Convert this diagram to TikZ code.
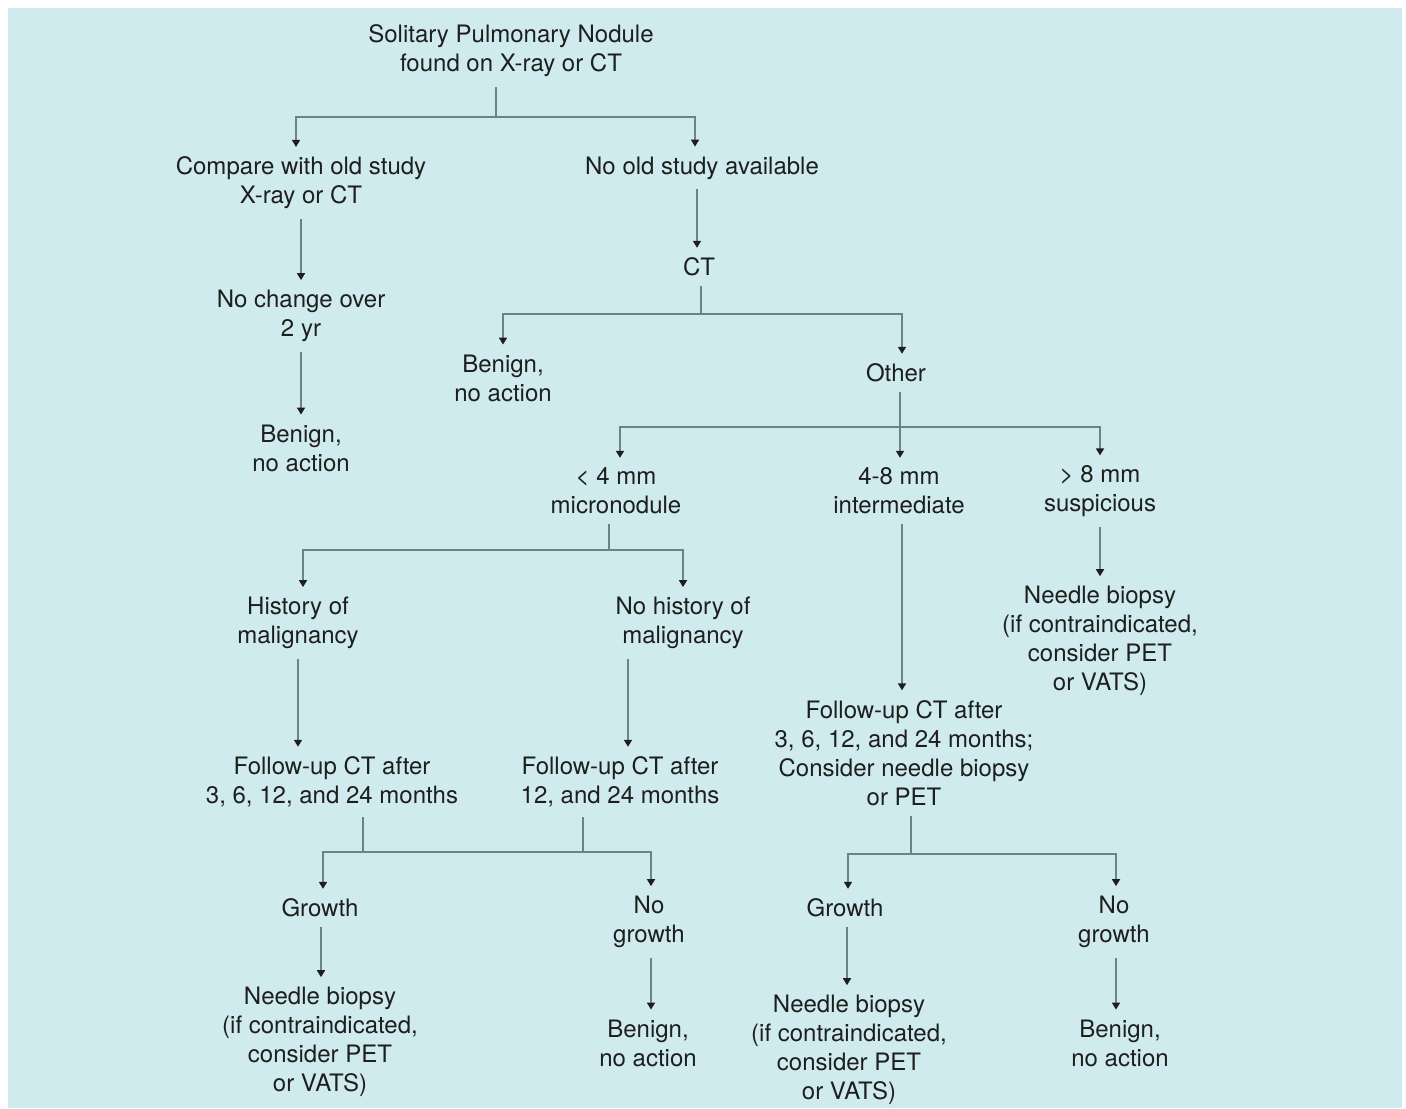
\documentclass[tikz,border=0pt]{standalone}
\usepackage{fontspec}
\setmainfont{TeX Gyre Heros}
\usepackage{xcolor}
\usetikzlibrary{arrows.meta, positioning}
\definecolor{panel}{HTML}{CFEBEE}
\definecolor{wire}{HTML}{6A8587}
\definecolor{ink}{HTML}{1E1E1E}

\tikzset{
  txt/.style={align=center, inner sep=0pt, outer sep=5pt, text=ink, yshift=-1.5pt,
    font=\fontsize{12}{14.5}\selectfont},
  link/.style={draw=wire, line width=0.8pt},
  arr/.style={link, -{Triangle[width=4pt,length=3.5pt,color=ink]}}
}

\begin{document}
\begin{tikzpicture}[x=0.5pt, y=-0.5pt]
\useasboundingbox (0,0) rectangle (1406,1108);
\fill[white] (0,0) rectangle (1406,1108);
\fill[panel] (8,8) rectangle (1402,1108);

\node[txt] (title) at (511,48) {Solitary Pulmonary Nodule\\found on X-ray or CT};
\node[txt] (cmp) at (301,180) {Compare with old study\\X-ray or CT};
\node[txt] (noold) at (702,165) {No old study available};
\node[txt] (chg) at (301,313) {No change over\\2 yr};
\node[txt] (ben1) at (301,445) {Benign,\\no action};
\node[txt] (ct) at (699,264) {CT};
\node[txt] (ben2) at (503,375) {Benign,\\no action};
\node[txt] (other) at (896,370) {Other};
\node[txt] (small) at (616,488) {< 4 mm\\micronodule};
\node[txt] (mid) at (899,488) {4-8 mm\\intermediate};
\node[txt] (big) at (1100,488) {> 8 mm\\suspicious};
\node[txt] (hist) at (298,620) {History of\\malignancy};
\node[txt] (nohist) at (683,620) {No history of\\malignancy};
\node[txt] (fu1) at (332,779) {Follow-up CT after\\3, 6, 12, and 24 months};
\node[txt] (fu2) at (620,779) {Follow-up CT after\\12, and 24 months};
\node[txt] (fu3) at (904,750) {Follow-up CT after\\3, 6, 12, and 24 months;\\Consider needle biopsy\\or PET};
\node[txt] (nb0) at (1100,638) {Needle biopsy\\(if contraindicated,\\consider PET\\or VATS)};
\node[txt] (gr1) at (320,905) {Growth};
\node[txt] (ng1) at (649,919) {No\\growth};
\node[txt] (nb1) at (320,1039) {Needle biopsy\\(if contraindicated,\\consider PET\\or VATS)};
\node[txt] (ben3) at (648,1040) {Benign,\\no action};
\node[txt] (gr2) at (845,905) {Growth};
\node[txt] (ng2) at (1114,919) {No\\growth};
\node[txt] (nb2) at (849,1047) {Needle biopsy\\(if contraindicated,\\consider PET\\or VATS)};
\node[txt] (ben4) at (1120,1040) {Benign,\\no action};

\coordinate (j0) at (496,117);
\coordinate (j1) at (701,314);
\coordinate (j2) at (900,427);
\coordinate (j3) at (609,550);
\coordinate (j4a) at (363,852);
\coordinate (j4b) at (583,852);
\coordinate (j5) at (911,854);
\coordinate (c2) at (628,0);

\draw[link] (title.south -| j0) -- (j0);
\draw[arr] (j0) -| ([xshift=-2.5pt]cmp.north);
\draw[arr] (j0) -| ([xshift=-3.5pt]noold.north);
\draw[arr] (cmp) -- (chg);
\draw[arr] (chg) -- (ben1);
\draw[arr] ([xshift=-2.5pt]noold.south) -- ([xshift=-2.5pt]noold.south |- ct.north);
\draw[link] (ct.south -| j1) -- (j1);
\draw[arr] (j1) -| (ben2.north);
\draw[arr] (j1) -| ([xshift=3pt]other.north);
\draw[arr] (other.south -| j2) -- (mid.north -| j2);
\draw[arr] (j2) -| ([xshift=2pt]small.north);
\draw[arr] (j2) -| (big.north);
\draw[link] (small.south -| j3) -- (j3);
\draw[arr] (j3) -| ([xshift=2.5pt]hist.north);
\draw[arr] (j3) -| (nohist.north);
\draw[arr] (hist.south) -- (fu1.north -| hist);
\draw[arr] (nohist.south -| c2) -- (fu2.north -| c2);
\draw[arr] ([xshift=1.5pt]mid.south) -- ([xshift=1.5pt]mid.south |- fu3.north);
\draw[arr] (big) -- (nb0);
\draw[link] (fu1.south -| j4a) -- (j4a);
\draw[link] (fu2.south -| j4b) -- (j4b);
\draw[link] (j4a) -- (j4b);
\draw[arr] (j4a) -| ([xshift=1.5pt]gr1.north);
\draw[arr] (j4b) -| ([xshift=1pt]ng1.north);
\draw[link] (fu3.south -| j5) -- (j5);
\draw[arr] (j5) -| ([xshift=1.5pt]gr2.north);
\draw[arr] (j5) -| ([xshift=1pt]ng2.north);
\draw[arr] ([xshift=0.5pt]gr1.south) -- ([xshift=0.5pt]gr1.south |- nb1.north);
\draw[arr] ([xshift=1pt]ng1.south) -- ([xshift=1pt]ng1.south |- ben3.north);
\draw[arr] ([xshift=1pt]gr2.south) -- ([xshift=1pt]gr2.south |- nb2.north);
\draw[arr] ([xshift=1pt]ng2.south) -- ([xshift=1pt]ng2.south |- ben4.north);
\end{tikzpicture}
\end{document}
